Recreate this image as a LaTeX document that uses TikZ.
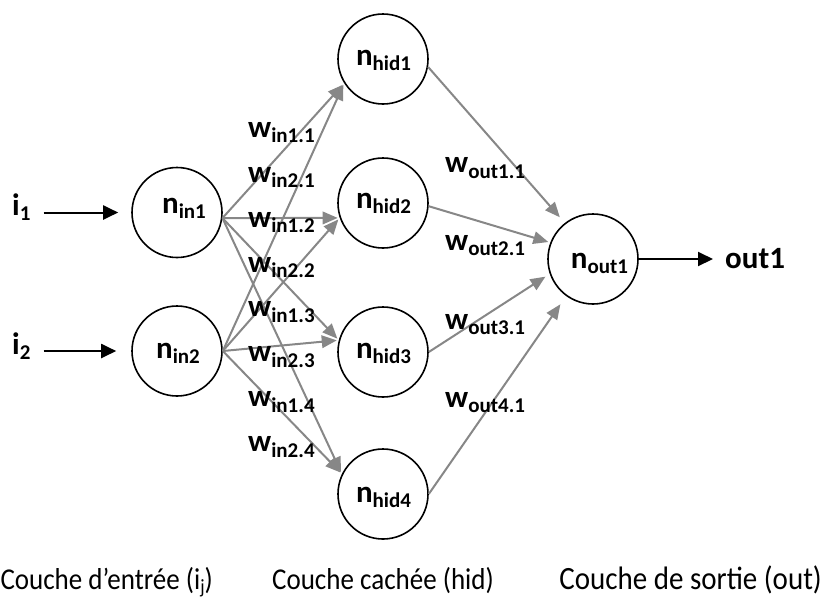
\documentclass[tikz,border=0pt]{standalone}
\usepackage{fontspec}
\setmainfont{Carlito}
\usetikzlibrary{arrows.meta}

% lowered, smaller text used for indices
\newcommand\lsub[1]{\raisebox{-5.5pt}{\fontsize{21}{22}\selectfont #1}}
\newcommand\capsub[1]{\raisebox{-4pt}{\fontsize{18}{20}\selectfont #1}}
% captions are set slightly taller than wide
\newcommand\tallcap[1]{\scalebox{1}[1.12]{#1}}

\definecolor{synGray}{RGB}{135,135,135}

\tikzset{
  neuron/.style={circle, draw=black, line width=1.6pt, minimum size=90pt, inner sep=0pt},
  nlab/.style={anchor=base, inner sep=0pt, font=\fontsize{31}{33}\selectfont\bfseries},
  wlab/.style={anchor=base west, inner sep=0pt, font=\fontsize{31}{33}\selectfont\bfseries},
  syn/.style={draw=synGray, line width=2pt, -{Triangle[length=15pt,width=12.5pt]}, shorten >=2pt},
  io/.style={draw=black, line width=2pt, -{Triangle[length=15pt,width=14pt]}},
  layer/.style={inner sep=0pt, font=\fontsize{27}{29}\selectfont}
}

\begin{document}
\begin{tikzpicture}[x=1pt, y=-1pt]
  \useasboundingbox (0,0) rectangle (826,598);

  % neurons
  \node[neuron] (in1)  at (177,212.5) {};
  \node[neuron] (in2)  at (177,351)   {};
  \node[neuron] (hid1) at (383,59)    {};
  \node[neuron] (hid2) at (383,203)   {};
  \node[neuron] (hid3) at (383,352)   {};
  \node[neuron] (hid4) at (383,494)   {};
  \node[neuron] (out1) at (593,259)   {};

  % neuron names
  \node[nlab] (in1t)  at (184,213)   {n\lsub{in1}};
  \node[nlab] (in2t)  at (178,358)   {n\lsub{in2}};
  \node[nlab] (hid1t) at (383.5,65)  {n\lsub{hid1}};
  \node[nlab] (hid2t) at (383.5,208) {n\lsub{hid2}};
  \node[nlab] (hid3t) at (383.5,358) {n\lsub{hid3}};
  \node[nlab] (hid4t) at (383.5,502) {n\lsub{hid4}};
  \node[nlab] (out1t) at (599.5,268) {n\lsub{out1}};

  % inputs and output
  \node[wlab] (x1)  at (12,215)  {i\lsub{1}};
  \node[wlab] (x2)  at (12,354)  {i\lsub{2}};
  \node[wlab] (y1)  at (725,268) {out1};

  \draw[io, shorten <=13pt, shorten >=13pt] (x1.east |- in1.center) -- (in1.west);
  \draw[io, shorten <=13pt, shorten >=15pt] (x2.east |- in2.center) -- (in2.west);
  \draw[io, shorten >=12pt] (out1.east) -- (out1.east -| y1.west);

  % input -> hidden synapses
  \draw[syn] (in1.-7) -- (hid1.212);
  \draw[syn] (in2.0)  -- (hid1.212);
  \draw[syn] (in1.-7) -- (hid2.199);
  \draw[syn] (in2.0)  -- (hid2.199);
  \draw[syn] (in1.-7) -- (hid3.165);
  \draw[syn] (in2.0)  -- (hid3.165);
  \draw[syn] (in1.-7) -- (hid4.154);
  \draw[syn] (in2.0)  -- (hid4.154);

  % hidden -> output synapses
  \draw[syn, shorten >=7.5pt] (hid1.-10) -- (out1.128);
  \draw[syn, shorten >=2pt]   (hid2.-4)  -- (out1.159);
  \draw[syn, shorten >=5pt]   (hid3.0)   -- (out1.199);
  \draw[syn, shorten >=10pt]  (hid4.0)   -- (out1.234);

  % weights
  \node[wlab] (w11) at (248,137.3) {w\lsub{in1.1}};
  \node[wlab] (w21) at (248,182.2) {w\lsub{in2.1}};
  \node[wlab] (w12) at (248,227.1) {w\lsub{in1.2}};
  \node[wlab] (w22) at (248,272.0) {w\lsub{in2.2}};
  \node[wlab] (w13) at (248,316.9) {w\lsub{in1.3}};
  \node[wlab] (w23) at (248,361.8) {w\lsub{in2.3}};
  \node[wlab] (w14) at (248,406.7) {w\lsub{in1.4}};
  \node[wlab] (w24) at (248,451.6) {w\lsub{in2.4}};

  \node[wlab] (v1) at (445,172.7) {w\lsub{out1.1}};
  \node[wlab] (v2) at (445,250)   {w\lsub{out2.1}};
  \node[wlab] (v3) at (445,329)   {w\lsub{out3.1}};
  \node[wlab] (v4) at (445,407)   {w\lsub{out4.1}};

  % layer captions
  \node[layer, anchor=base east] (L1) at (213,589) {\tallcap{Couche d’entrée (i\capsub{j})}};
  \node[layer, anchor=base]      (L2) at (383,589) {\tallcap{Couche cachée (hid)}};
  \node[layer, anchor=base east, font=\fontsize{29}{31}\selectfont] (L3) at (822,589) {\tallcap{Couche de sortie (out)}};
\end{tikzpicture}
\end{document}
